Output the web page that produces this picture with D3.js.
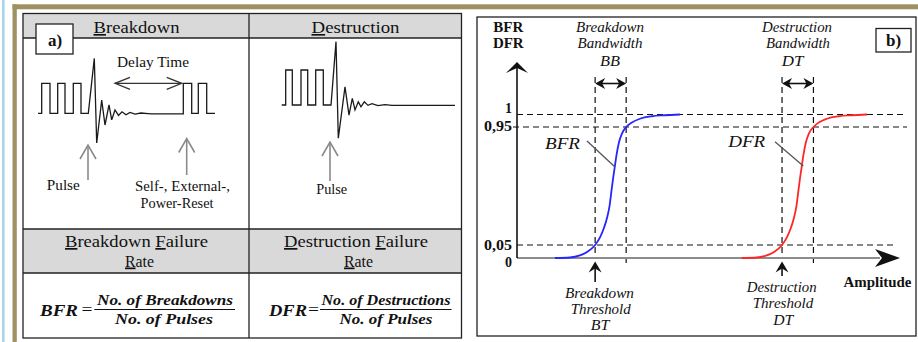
<!DOCTYPE html>
<html><head><meta charset="utf-8">
<script src="https://cdn.jsdelivr.net/npm/d3@7"></script>
<style>html,body{margin:0;padding:0;background:#fff;overflow:hidden}</style>
</head><body>
<script>
// ---------------- DATA ----------------
// Panel a) waveforms (time units, normalised level: 0 = baseline, 1 = pulse top)
const breakdownTime  = [0,3.7,3.7,12,12,19.7,19.7,27,27,35.3,35.3,43,43,50.3,56.3,58.7,63.7,67,71,73.7,77,80.5,84,88,92,97,103,110,114,145.3,145.3,153.7,153.7,160.3,160.3,168.7,168.7,177];
const breakdownLevel = [0,0,1,1,0,0,1,1,0,0,1,1,0,0,1.83,-0.99,0.44,-0.39,0.28,-0.22,0.11,-0.07,0.05,-0.05,0.03,-0.03,0.01,-0.01,-0.02,-0.02,1,1,0,0,1,1,0,0];
const destructionTime  = [0,4,4,10.6,10.6,19.3,19.3,26,26,34,34,41.6,41.6,49.3,54.3,56.6,63.3,67.3,70.6,73.3,76.6,79.3,82.6,86.3,90.3,96.3,103.3,110.3,173.3];
const destructionLevel = [0,0,1,1,0,0,1,1,0,0,1,1,0,0,1.81,-0.95,0.52,-0.29,0.19,-0.14,0.09,-0.05,0.09,-0.01,0.04,-0.02,0.01,-0.01,-0.01];

// Panel b) failure-rate curves (amplitude in arbitrary units 0..100)
const bfrAmplitude = [9.9,13.8,16.4,18.5,20.4,21.7,22.7,23.5,24.2,24.7,25.1,25.5,26.0,26.6,27.4,28.5,30.0,32.1,35.2,38.6,42.6];
const bfrValue     = [0,0.002,0.01,0.025,0.05,0.11,0.18,0.256,0.355,0.47,0.56,0.64,0.74,0.83,0.90,0.95,0.968,0.983,0.993,0.997,1];
const dfrAmplitude = [58.7,62.6,65.2,67.3,69.2,70.5,71.5,72.3,73.0,73.5,73.9,74.3,74.8,75.4,76.2,77.4,78.8,80.9,84.0,87.4,91.4];
const dfrValue     = [0,0.002,0.01,0.025,0.05,0.11,0.18,0.256,0.355,0.47,0.56,0.64,0.74,0.83,0.90,0.95,0.968,0.983,0.993,0.997,1];
const yTickValues = [0, 0.05, 0.95, 1];
const yTickLabels = ["0", "0,05", "0,95", "1"];
const levelLines  = [0.05, 0.95, 1];
const thresholdAmp = [20.4, 69.2];   // BT, DT
const bandUpperAmp = [28.5, 77.4];   // BT+BB, DT+DB

// ---------------- HELPERS ----------------
const FONT = "'Liberation Serif','Times New Roman',serif";
const svg = d3.select("body").append("svg").attr("width", 918).attr("height", 342);
svg.append("rect").attr("width", 918).attr("height", 342).attr("fill", "#fff");

function txt(g, x, y, s, o = {}) {
  const t = g.append("text").attr("x", x).attr("y", y)
    .attr("font-family", FONT).attr("font-size", o.size || 14)
    .attr("text-anchor", o.anchor || "middle")
    .attr("font-weight", o.weight || "normal")
    .attr("font-style", o.style || "normal")
    .attr("fill", o.fill || "#111");
  if (s.indexOf("_") >= 0) {
    const parts = s.split(/(_.)/).filter(p => p.length);
    parts.forEach(p => {
      if (p[0] === "_") t.append("tspan").attr("text-decoration", "underline").text(p[1]);
      else t.append("tspan").text(p);
    });
  } else t.text(s);
  if (o.width) t.attr("textLength", o.width).attr("lengthAdjust", "spacingAndGlyphs");
  return t;
}
function openArrowUp(g, x, yTip, yEnd, col) {
  g.append("line").attr("x1", x).attr("x2", x).attr("y1", yTip).attr("y2", yEnd)
    .attr("stroke", col).attr("stroke-width", 1.6);
  g.append("path").attr("d", `M${x-8},${yTip+14} L${x},${yTip} L${x+8},${yTip+14}`)
    .attr("fill", "none").attr("stroke", col).attr("stroke-width", 1.6);
}

// ---------------- FRAME DECORATION ----------------
svg.append("rect").attr("x", 2).attr("y", 0).attr("width", 2.6).attr("height", 342).attr("fill", "#a8d5ea");
svg.append("rect").attr("x", 12.5).attr("y", 4.3).attr("width", 905.5).attr("height", 5).attr("fill", "#9e9264");
svg.append("rect").attr("x", 12.5).attr("y", 4.3).attr("width", 4.3).attr("height", 337.7).attr("fill", "#9e9264");

// ---------------- PANEL A ----------------
const a = svg.append("g");
const L = 23, R = 461.5, T = 13.5, B = 338, MID = 249;
a.append("rect").attr("x", L).attr("y", T).attr("width", R - L).attr("height", 38 - T).attr("fill", "#d9d9d9");
a.append("rect").attr("x", L).attr("y", 229).attr("width", R - L).attr("height", 44).attr("fill", "#d9d9d9");
const st = "#222";
a.append("rect").attr("x", L).attr("y", T).attr("width", R - L).attr("height", B - T)
  .attr("fill", "none").attr("stroke", st).attr("stroke-width", 1.3);
[38, 229, 273].forEach(y => a.append("line").attr("x1", L).attr("x2", R).attr("y1", y).attr("y2", y)
  .attr("stroke", st).attr("stroke-width", 1.3));
a.append("line").attr("x1", MID).attr("x2", MID).attr("y1", T).attr("y2", B).attr("stroke", st).attr("stroke-width", 1.3);

txt(a, 136.5, 33, "_Breakdown", { size: 16.5, width: 86 });
txt(a, 355.5, 33, "_Destruction", { size: 16.5, width: 88 });

a.append("rect").attr("x", 36).attr("y", 24).attr("width", 37).attr("height", 30)
  .attr("fill", "#fff").attr("stroke", st).attr("stroke-width", 1.3);
txt(a, 55, 45.5, "a)", { size: 17, weight: "bold" });

// waveforms
const bdX = d3.scaleLinear().domain([0, 177]).range([38, 215]);
const bdY = d3.scaleLinear().domain([0, 1]).range([113.3, 83.3]);
const dsX = d3.scaleLinear().domain([0, 173.3]).range([281.7, 455]);
const dsY = d3.scaleLinear().domain([0, 1]).range([105, 70]);
const bdLine = d3.line().x((d, i) => bdX(breakdownTime[i])).y(d => bdY(d));
const dsLine = d3.line().x((d, i) => dsX(destructionTime[i])).y(d => dsY(d));
a.append("path").attr("d", bdLine(breakdownLevel)).attr("fill", "none").attr("stroke", "#1a1a1a").attr("stroke-width", 1.3);
a.append("path").attr("d", dsLine(destructionLevel)).attr("fill", "none").attr("stroke", "#1a1a1a").attr("stroke-width", 1.3);

// delay time arrow
txt(a, 153, 67, "Delay Time", { size: 14.5, width: 72 });
a.append("line").attr("x1", 115).attr("x2", 181.7).attr("y1", 83.3).attr("y2", 83.3).attr("stroke", "#333").attr("stroke-width", 1.3);
a.append("path").attr("d", "M130,77.3 L115,83.3 L130,89.3").attr("fill", "none").attr("stroke", "#333").attr("stroke-width", 1.3);
a.append("path").attr("d", "M166.7,77.3 L181.7,83.3 L166.7,89.3").attr("fill", "none").attr("stroke", "#333").attr("stroke-width", 1.3);

openArrowUp(a, 88, 145, 180, "#8a8a8a");
openArrowUp(a, 186.7, 138.5, 175, "#8a8a8a");
openArrowUp(a, 330, 142, 181, "#8a8a8a");
txt(a, 63.3, 190, "Pulse", { size: 14.5, width: 33 });
txt(a, 182.5, 191, "Self-, External-,", { size: 14.5, width: 95 });
txt(a, 177, 208, "Power-Reset", { size: 14.5, width: 73 });
txt(a, 331.7, 194, "Pulse", { size: 14.5, width: 31 });

txt(a, 136.5, 247, "_Breakdown _Failure", { size: 17, width: 143 });
txt(a, 139.5, 266.5, "_Rate", { size: 17, width: 29 });
txt(a, 356, 247, "_Destruction _Failure", { size: 17, width: 144 });
txt(a, 358.5, 266.5, "_Rate", { size: 17, width: 29 });

// formulas
txt(a, 40, 316, "BFR", { size: 16, weight: "bold", style: "italic", anchor: "start", width: 38 });
txt(a, 87, 315, "=", { size: 16, width: 11 });
txt(a, 165, 304.5, "No. of Breakdowns", { size: 15, weight: "bold", style: "italic", width: 136 });
a.append("line").attr("x1", 94.3).attr("x2", 235).attr("y1", 309.5).attr("y2", 309.5).attr("stroke", "#111").attr("stroke-width", 1.2);
txt(a, 164, 324, "No. of Pulses", { size: 15, weight: "bold", style: "italic", width: 98 });

txt(a, 269, 316, "DFR", { size: 16, weight: "bold", style: "italic", anchor: "start", width: 38 });
txt(a, 313.5, 315, "=", { size: 16, width: 11 });
txt(a, 386, 304.5, "No. of Destructions", { size: 15, weight: "bold", style: "italic", width: 129 });
a.append("line").attr("x1", 320).attr("x2", 451.5).attr("y1", 309.5).attr("y2", 309.5).attr("stroke", "#111").attr("stroke-width", 1.2);
txt(a, 386, 324, "No. of Pulses", { size: 15, weight: "bold", style: "italic", width: 93 });

// ---------------- PANEL B ----------------
const b = svg.append("g");
b.append("rect").attr("x", 477).attr("y", 17).attr("width", 439).attr("height", 319)
  .attr("fill", "#fff").attr("stroke", st).attr("stroke-width", 1.3);
txt(b, 893.5, 45.5, "b)", { size: 17, weight: "bold" });
b.append("rect").attr("x", 876).attr("y", 28.5).attr("width", 35).attr("height", 23.5)
  .attr("fill", "none").attr("stroke", st).attr("stroke-width", 1.3);

const x = d3.scaleLinear().domain([0, 100]).range([517, 900]);
const y = d3.scaleLinear().domain([0, 0.05, 0.95, 1]).range([258, 245, 127, 114.5]);

const dash = "6,4";
const levelEnd = { 0.05: 897, 0.95: 907, 1: 907 };
levelLines.forEach(v => b.append("line").attr("x1", x(0) - (v === 0.95 ? 4 : 0)).attr("x2", levelEnd[v])
  .attr("y1", y(v)).attr("y2", y(v)).attr("stroke", "#111").attr("stroke-width", 1.2).attr("stroke-dasharray", dash));
thresholdAmp.forEach(v => b.append("line").attr("x1", x(v)).attr("x2", x(v)).attr("y1", 77).attr("y2", 259)
  .attr("stroke", "#111").attr("stroke-width", 1.2).attr("stroke-dasharray", dash));
bandUpperAmp.forEach(v => b.append("line").attr("x1", x(v)).attr("x2", x(v)).attr("y1", 77).attr("y2", 267)
  .attr("stroke", "#111").attr("stroke-width", 1.2).attr("stroke-dasharray", dash));

thresholdAmp.forEach((v, i) => {
  const x1 = x(v), x2 = x(bandUpperAmp[i]), yy = 83.5;
  b.append("line").attr("x1", x1 + 4).attr("x2", x2 - 4).attr("y1", yy).attr("y2", yy).attr("stroke", "#111").attr("stroke-width", 1.6);
  b.append("path").attr("d", `M${x1},${yy} L${x1+10},${yy-5.5} L${x1+7},${yy} L${x1+10},${yy+5.5}Z`).attr("fill", "#111");
  b.append("path").attr("d", `M${x2},${yy} L${x2-10},${yy-5.5} L${x2-7},${yy} L${x2-10},${yy+5.5}Z`).attr("fill", "#111");
});

// axes
b.append("line").attr("x1", x(0)).attr("x2", 880).attr("y1", y(0)).attr("y2", y(0)).attr("stroke", "#8c8c8c").attr("stroke-width", 2);
b.append("path").attr("d", `M900,${y(0)} L875,${y(0)-9} L882,${y(0)} L875,${y(0)+9}Z`).attr("fill", "#111");
b.append("line").attr("x1", x(0)).attr("x2", x(0)).attr("y1", y(0)).attr("y2", 68).attr("stroke", "#111").attr("stroke-width", 1.6);
b.append("path").attr("d", `M${x(0)},62 L${x(0)-11},73 L${x(0)},68 L${x(0)+11},73Z`).attr("fill", "#111");

const yAxis = d3.axisLeft(y).tickValues(yTickValues).tickFormat((d, i) => yTickLabels[i]).tickSize(0).tickPadding(5);
const yAxisG = b.append("g").attr("transform", `translate(${x(0)},0)`).call(yAxis);
yAxisG.select(".domain").remove();
const tickShift = [4, 0, -1, -6.5];
const tickWidth = [null, 28, 28, null];
yAxisG.selectAll(".tick text").attr("font-family", FONT).attr("font-size", 14).attr("font-weight", "bold").attr("fill", "#111")
  .attr("transform", (d, i) => `translate(0,${tickShift[i]})`)
  .each(function (d, i) { if (tickWidth[i]) d3.select(this).attr("textLength", tickWidth[i]).attr("lengthAdjust", "spacingAndGlyphs"); });

txt(b, 508.3, 31.5, "BFR", { size: 15, weight: "bold" });
txt(b, 508.3, 48, "DFR", { size: 15, weight: "bold" });
txt(b, 877.5, 287, "Amplitude", { size: 15, weight: "bold", width: 68 });

const curve = d3.line().curve(d3.curveMonotoneX).x(d => x(d[0])).y(d => y(d[1]));
b.append("path").attr("d", curve(bfrAmplitude.map((v, i) => [v, bfrValue[i]]))).attr("fill", "none").attr("stroke", "#2626ff").attr("stroke-width", 1.8);
b.append("path").attr("d", curve(dfrAmplitude.map((v, i) => [v, dfrValue[i]]))).attr("fill", "none").attr("stroke", "#ff2626").attr("stroke-width", 1.8);

txt(b, 562.5, 149, "BFR", { size: 17, style: "italic", width: 35 });
b.append("line").attr("x1", 587).attr("y1", 141).attr("x2", 615).attr("y2", 167).attr("stroke", "#555").attr("stroke-width", 1.3);
txt(b, 746.7, 146.5, "DFR", { size: 17, style: "italic", width: 37 });
b.append("line").attr("x1", 775).attr("y1", 141.7).attr("x2", 803.3).attr("y2", 166).attr("stroke", "#555").attr("stroke-width", 1.3);

txt(b, 610, 31.5, "Breakdown", { size: 15, style: "italic", width: 68 });
txt(b, 610, 48, "Bandwidth", { size: 15, style: "italic", width: 65 });
txt(b, 610, 65.5, "BB", { size: 15, style: "italic", width: 20 });
txt(b, 797, 31.5, "Destruction", { size: 15, style: "italic", width: 70 });
txt(b, 798, 48, "Bandwidth", { size: 15, style: "italic", width: 64 });
txt(b, 792.5, 65.5, "DT", { size: 15, style: "italic", width: 21.6 });

thresholdAmp.forEach((v, i) => {
  const xx = x(v), tip = 261.5, end = i === 0 ? 282 : 276;
  b.append("line").attr("x1", xx).attr("x2", xx).attr("y1", tip + 5).attr("y2", end).attr("stroke", "#111").attr("stroke-width", 1.6);
  b.append("path").attr("d", `M${xx},${tip} L${xx-6.5},${tip+11} L${xx},${tip+7} L${xx+6.5},${tip+11}Z`).attr("fill", "#111");
});
txt(b, 599.5, 298, "Breakdown", { size: 15, style: "italic", width: 69 });
txt(b, 600.7, 313.5, "Threshold", { size: 15, style: "italic", width: 60 });
txt(b, 600, 330, "BT", { size: 15, style: "italic", width: 18.6 });
txt(b, 781.7, 291.7, "Destruction", { size: 15, style: "italic", width: 70 });
txt(b, 783, 308, "Threshold", { size: 15, style: "italic", width: 60.6 });
txt(b, 783.3, 325, "DT", { size: 15, style: "italic", width: 20 });
</script>
</body></html>
